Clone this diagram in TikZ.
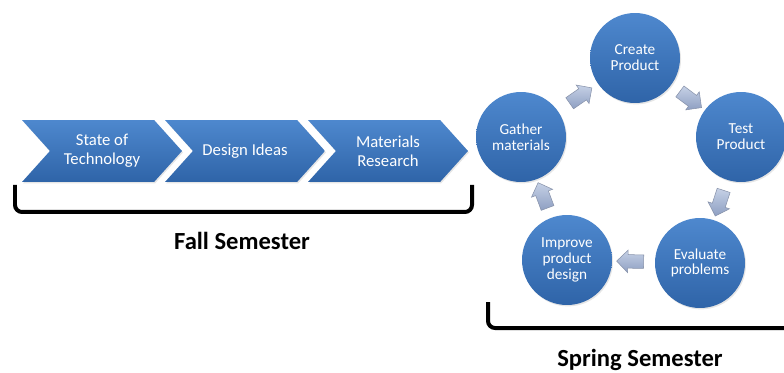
\documentclass[tikz,border=0pt]{standalone}
\usepackage{fontspec}
\setmainfont{Carlito}
\usepackage{tikz}
\usetikzlibrary{shapes.symbols,shapes.arrows,shadows}

\definecolor{stagetop}{HTML}{4E88CE}
\definecolor{stagebot}{HTML}{2F64A8}
\definecolor{looptop}{HTML}{C6D1E6}
\definecolor{loopbot}{HTML}{8E9FC2}
\definecolor{loopline}{HTML}{8792AA}

\begin{document}
\begin{tikzpicture}[x=0.02cm,y=0.02cm,
  stage/.style={signal, signal from=west, signal to=east, signal pointer angle=96,
    minimum width=3.2cm, minimum height=1.24cm, inner sep=1pt,
    top color=stagetop, bottom color=stagebot, text=white, align=center,
    font=\fontsize{9.5}{10.8}\selectfont,
    drop shadow={opacity=0.2, shadow xshift=0.6pt, shadow yshift=-0.8pt}},
  task/.style={circle, minimum size=1.8cm, inner sep=0pt,
    top color=stagetop, bottom color=stagebot, text=white, align=center,
    font=\fontsize{8.7}{9}\selectfont,
    drop shadow={opacity=0.2, shadow xshift=0.6pt, shadow yshift=-0.8pt}},
  turn/.style={single arrow, minimum height=0.54cm, inner sep=0.13cm,
    single arrow head extend=0.09cm, single arrow head indent=0pt,
    top color=looptop, bottom color=loopbot, draw=loopline, line width=0.3pt},
  brace/.style={line width=0.08cm, rounded corners=4pt},
  term/.style={font=\fontsize{14}{16}\selectfont\bfseries, anchor=base}]

\useasboundingbox (0,0) rectangle (784,372);

% fall: three steps in a row
\node[stage] (tech) at (102,221) {State of\\Technology};
\node[stage] (ideas) at (245,221) {Design Ideas};
\node[stage] (research) at (388,221) {Materials\\Research};

% spring: the design loop
\node[task] (create) at (635,314) {Create\\Product};
\node[task] (test) at (741,235) {Test\\Product};
\node[task] (evaluate) at (700,109) {Evaluate\\problems};
\node[task] (improve) at (567,112) {Improve\\product\\design};
\node[task] (gather) at (521,235) {Gather\\materials};

% block arrows half way between the circles
\path (gather) -- node[turn, sloped, allow upside down] (g2c) {} (create);
\path (create) -- node[turn, sloped, allow upside down] (c2t) {} (test);
\path (test) -- node[turn, sloped, allow upside down] (t2e) {} (evaluate);
\path (evaluate) -- node[turn, sloped, allow upside down] (e2i) {} (improve);
\path (improve) -- node[turn, sloped, allow upside down] (i2g) {} (gather);

% brackets and their labels
\draw[brace] (15,187) -- (15,160) -- (472,160) -- (472,187);
\node[term] (fall) at (242,122) {Fall Semester};

\draw[brace] (488,70) -- (488,44) -- (800,44);
\node[term] (spring) at (640,6) {Spring Semester};

\end{tikzpicture}
\end{document}
